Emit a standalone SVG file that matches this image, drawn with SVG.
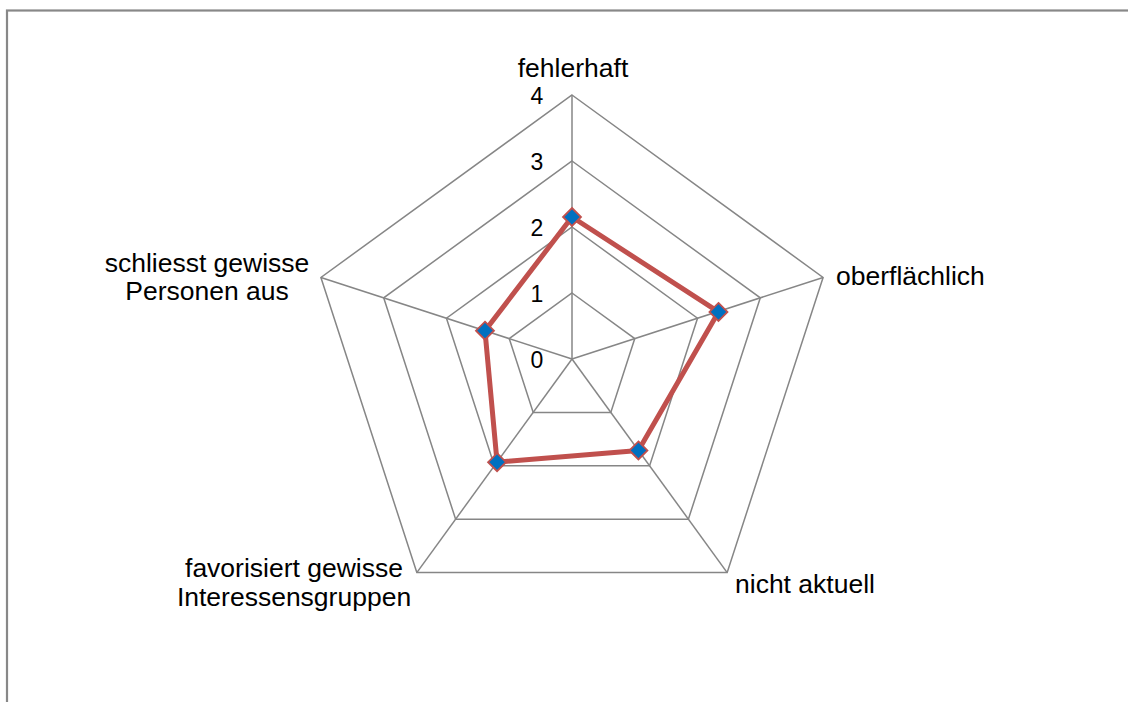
<svg xmlns="http://www.w3.org/2000/svg" width="1128" height="702" viewBox="0 0 1128 702">
<defs>
<style>
.grid{fill:none;stroke:#868686;stroke-width:1.5}
.axis{stroke:#868686;stroke-width:1.5}
.series{fill:none;stroke:#C0504D;stroke-width:5;stroke-linejoin:round}
.mk{fill:#0070C0;stroke:#C0504D;stroke-width:1.8}
.lbl{font-family:"Liberation Sans",Arial,sans-serif;font-size:26.5px;fill:#000}
.tick{font-family:"Liberation Sans",Arial,sans-serif;font-size:23px;fill:#000;text-anchor:middle}
</style>
<path id="dia" d="M0,-9 L9,0 L0,9 L-9,0 Z"/>
</defs>
<rect x="0" y="0" width="1128" height="702" fill="#fff"/>
<rect x="7" y="10.5" width="1140" height="720" fill="none" stroke="#888" stroke-width="2.2"/>
<g id="grid">
<polygon class="grid" points="572,293 634.77,338.6 610.79,412.4 533.21,412.4 509.23,338.6"/>
<polygon class="grid" points="572,227 697.54,318.2 649.59,465.79 494.41,465.79 446.46,318.2"/>
<polygon class="grid" points="572,161 760.31,297.81 688.38,519.18 455.62,519.18 383.69,297.81"/>
<polygon class="grid" points="572,95 823.08,277.42 727.18,572.58 416.82,572.58 320.92,277.42"/>
<line class="axis" x1="572" y1="359" x2="572" y2="95"/>
<line class="axis" x1="572" y1="359" x2="823.08" y2="277.42"/>
<line class="axis" x1="572" y1="359" x2="727.18" y2="572.58"/>
<line class="axis" x1="572" y1="359" x2="416.82" y2="572.58"/>
<line class="axis" x1="572" y1="359" x2="320.92" y2="277.42"/>
</g>
<g id="ticks">
<text class="tick" x="537" y="104">4</text>
<text class="tick" x="537" y="170">3</text>
<text class="tick" x="537" y="236">2</text>
<text class="tick" x="537" y="302">1</text>
<text class="tick" x="537" y="368">0</text>
</g>
<g id="connectors">
<polygon class="series" points="572,217 718.46,311.9 638.42,450.42 497.06,462.15 484.98,330.72"/>
</g>
<g id="node-fehlerhaft">
<use href="#dia" class="mk" x="572" y="217"/>
<text class="lbl" x="573" y="77" text-anchor="middle">fehlerhaft</text>
</g>
<g id="node-oberflaechlich">
<use href="#dia" class="mk" x="718.46" y="311.9"/>
<text class="lbl" x="836" y="285">oberflächlich</text>
</g>
<g id="node-nicht-aktuell">
<use href="#dia" class="mk" x="638.42" y="450.42"/>
<text class="lbl" x="735" y="593">nicht aktuell</text>
</g>
<g id="node-favorisiert">
<use href="#dia" class="mk" x="497.06" y="462.15"/>
<text class="lbl" x="294" y="577" text-anchor="middle">favorisiert gewisse</text>
<text class="lbl" x="294" y="606" text-anchor="middle">Interessensgruppen</text>
</g>
<g id="node-schliesst">
<use href="#dia" class="mk" x="484.98" y="330.72"/>
<text class="lbl" x="207" y="272" text-anchor="middle">schliesst gewisse</text>
<text class="lbl" x="207" y="300" text-anchor="middle">Personen aus</text>
</g>
</svg>
